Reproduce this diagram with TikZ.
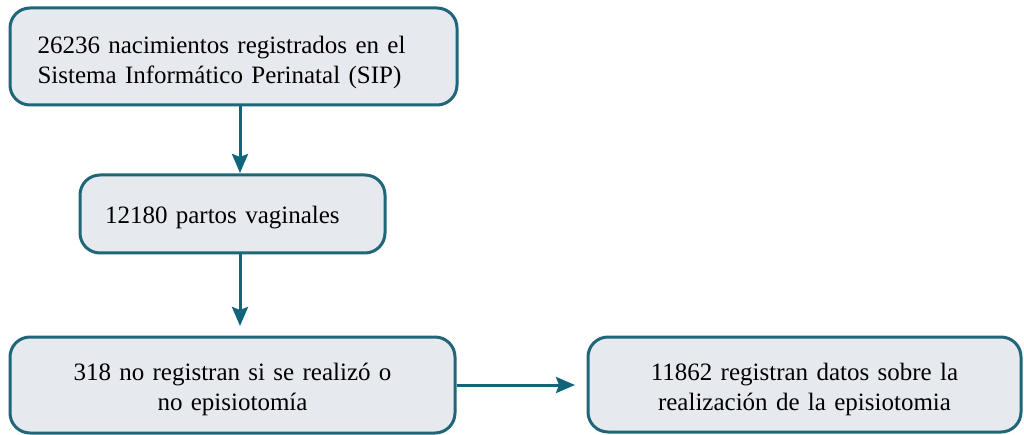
\documentclass[tikz,border=0pt]{standalone}
\usepackage{fontspec}
\setmainfont{Liberation Serif}
\usetikzlibrary{arrows.meta,positioning}
\definecolor{boxfill}{HTML}{E6E9EE}
\definecolor{boxline}{HTML}{1E6678}
\definecolor{arrowc}{HTML}{10657A}
\tikzset{
  flowbox/.style={draw=boxline, fill=boxfill, line width=3pt, rounded corners=20pt, inner sep=0pt, font=\fontsize{25}{30}\selectfont},
  flowarrow/.style={draw=arrowc, line width=3pt, -{Stealth[length=19pt,width=16pt,inset=3pt]}}
}
\begin{document}
\begin{tikzpicture}[x=1pt,y=-1pt]
\useasboundingbox (0,0) rectangle (1024,435);
\node[flowbox, minimum width=447pt, minimum height=97pt, text width=392pt, align=left] (b1) at (233.5,56.5) {\rule{0pt}{30pt}26236 nacimientos registrados en el\\Sistema Informático Perinatal (SIP)};
\node[flowbox, minimum width=305pt, minimum height=78pt, text width=255pt, align=left] (b2) at (232.5,214) {\rule{0pt}{24pt}12180 partos vaginales};
\node[flowbox, minimum width=445pt, minimum height=96pt, text width=420pt, align=center] (b3) at (232.5,385) {\rule{0pt}{27pt}318 no registran si se realizó o\\no episiotomía};
\node[flowbox, minimum width=433pt, minimum height=95pt, text width=420pt, align=center] (b4) at (804.5,384.5) {\rule{0pt}{27pt}11862 registran datos sobre la\\realización de la episiotomia};
\coordinate (a1end) at (240,173);
\coordinate (a2end) at (240,326);
\coordinate (a3end) at (575,385);
\draw[flowarrow] (b1.south -| a1end) -- (a1end);
\draw[flowarrow] (b2.south -| a2end) -- (a2end);
\draw[flowarrow] (b3.east) -- (a3end);
\end{tikzpicture}
\end{document}
